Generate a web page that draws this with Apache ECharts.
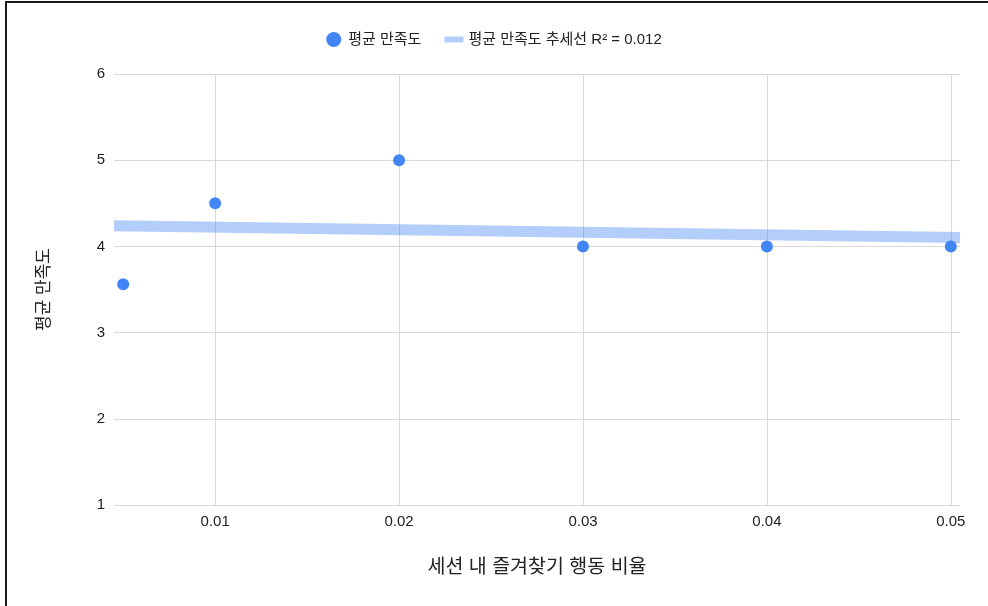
<!DOCTYPE html>
<html>
<head>
<meta charset="utf-8">
<script src="https://cdn.jsdelivr.net/npm/echarts@6/dist/echarts.min.js"></script>
<style>
  html, body { margin: 0; padding: 0; background: #fff; }
  #chart { width: 988px; height: 606px; }
</style>
</head>
<body>
<div id="chart"></div>
<script>
// Share of favourite actions per session vs. average satisfaction
const ratios = [0.005, 0.01, 0.02, 0.03, 0.04, 0.05];
const satisfaction = [3.56, 4.5, 5, 4, 4, 4];
const xTicks = [0.01, 0.02, 0.03, 0.04, 0.05];
const yTicks = [1, 2, 3, 4, 5, 6];
const xRange = [0.0045, 0.0505];

const seriesName = '평균 만족도';
const trendName = '평균 만족도 추세선 R² = 0.012';

// Least-squares linear fit of the points
function linearFit(xs, ys) {
  const n = xs.length;
  const mx = xs.reduce((a, b) => a + b, 0) / n;
  const my = ys.reduce((a, b) => a + b, 0) / n;
  let sxy = 0, sxx = 0;
  for (let i = 0; i < n; i++) {
    sxy += (xs[i] - mx) * (ys[i] - my);
    sxx += (xs[i] - mx) * (xs[i] - mx);
  }
  const slope = sxy / sxx;
  return { slope, intercept: my - slope * mx };
}
const fit = linearFit(ratios, satisfaction);
const trendData = xRange.map(x => [x, fit.intercept + fit.slope * x]);

const FONT = '"Liberation Sans", Arial, "Noto Sans CJK KR", sans-serif';

const chart = echarts.init(document.getElementById('chart'), null, { renderer: 'canvas' });
chart.setOption({
  backgroundColor: '#fff',
  animation: false,
  textStyle: { fontFamily: FONT },
  legend: {
    top: 27,
    left: 'center',
    itemGap: 23,
    itemWidth: 19,
    itemHeight: 15,
    textStyle: { fontSize: 15, color: '#222', fontFamily: FONT },
    data: [
      { name: seriesName, icon: 'circle' },
      { name: trendName, icon: 'path://M0,0h16v5h-16z' }
    ]
  },
  grid: { left: 114, right: 28, top: 74, bottom: 101 },
  xAxis: {
    type: 'value',
    min: xRange[0],
    max: xRange[1],
    name: '세션 내 즐겨찾기 행동 비율',
    nameLocation: 'middle',
    nameGap: 53,
    nameTextStyle: { fontSize: 19.5, color: '#222', fontFamily: FONT },
    axisLine: { show: false },
    axisTick: { show: false, customValues: xTicks },
    axisLabel: {
      customValues: xTicks,
      fontSize: 15, color: '#222', margin: 9,
      formatter: v => String(+v.toFixed(3)), fontFamily: FONT
    },
    splitLine: { show: true, lineStyle: { color: '#d9d9d9', width: 1 } }
  },
  yAxis: {
    type: 'value',
    min: yTicks[0],
    max: yTicks[yTicks.length - 1],
    interval: 1,
    name: '평균 만족도',
    nameLocation: 'middle',
    nameGap: 61,
    nameRotate: 90,
    nameTextStyle: { fontSize: 17, color: '#222', fontFamily: FONT },
    axisLine: { show: false },
    axisTick: { show: false },
    axisLabel: { fontSize: 15, color: '#222', margin: 9, fontFamily: FONT },
    splitLine: { show: true, lineStyle: { color: '#d9d9d9', width: 1 } }
  },
  series: [
    {
      name: trendName,
      type: 'line',
      data: trendData,
      symbol: 'none',
      silent: true,
      z: 1,
      itemStyle: { color: '#b3cdfb' },
      lineStyle: { color: '#4285f4', opacity: 0.4, width: 11, cap: 'butt' }
    },
    {
      name: seriesName,
      type: 'scatter',
      data: ratios.map((x, i) => [x, satisfaction[i]]),
      symbol: 'circle',
      symbolSize: 12,
      z: 3,
      itemStyle: { color: '#4285f4', opacity: 1 }
    }
  ],
  graphic: [
    { type: 'line', shape: { x1: 6, y1: 2, x2: 988, y2: 2 }, style: { stroke: '#1a1a1a', lineWidth: 2 }, silent: true },
    { type: 'line', shape: { x1: 6, y1: 1, x2: 6, y2: 606 }, style: { stroke: '#1a1a1a', lineWidth: 2 }, silent: true }
  ]
});
</script>
</body>
</html>
